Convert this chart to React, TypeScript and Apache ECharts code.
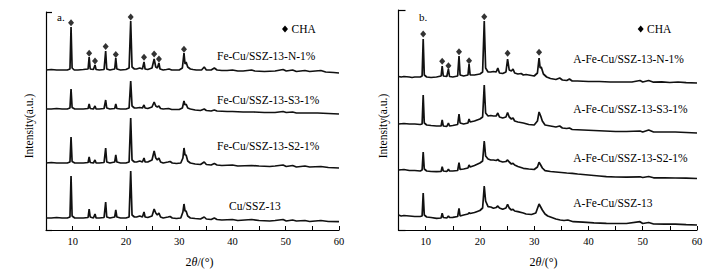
import React, { useEffect, useRef } from "react";
import * as echarts from "echarts";

type P = [number, number];

// Panel a: 2θ (deg) vs relative intensity of each pattern (a.u.)
const A_N: P[] = [[5,3],[6,3.5],[7,3],[8,3],[9,3],[9.5,4],[9.7,46],[9.9,5],[10.3,3],[11,3],[12,3.5],[12.9,4],[13.1,16],[13.3,4],[13.9,3.5],[14.2,8],[14.4,3.5],[15,3],[15.9,3.5],[16.2,22],[16.4,4],[17,3],[17.9,4],[18.1,15],[18.3,4],[19,3],[20,3.5],[20.6,5],[20.9,52],[21.15,6],[21.6,4],[22,4],[22.6,5],[23.1,4],[23.4,11],[23.6,4],[24.1,3.5],[24.9,5],[25.3,14],[25.6,6],[25.9,5],[26.2,10],[26.4,4],[27,3],[27.6,3.5],[28.1,4],[28.6,3],[29.2,3],[30,3],[30.6,5],[30.9,20],[31.1,9],[31.3,11],[31.6,6],[32.1,4],[32.6,3.5],[33.2,3],[34.2,3],[34.7,6],[35.1,3],[36,3],[36.6,5],[37.1,3],[38,2.5],[39,2.5],[40,3],[41,2],[42,2],[43.6,3],[44.2,2],[46,1.5],[48,2],[49.5,3.5],[50.1,2],[51.3,3],[52,1.5],[53.6,2.5],[54.5,1.5],[56.6,2.5],[57.5,1],[59,0.5],[60,0]];
const A_S3: P[] = [[5,5],[6,5],[7,5.5],[8,5],[9,5],[9.5,6],[9.7,25],[9.9,6.5],[10.4,5],[11,5],[12,5],[12.9,5.5],[13.1,10],[13.3,5.5],[13.9,5],[14.2,8],[14.4,5],[15,5],[15.9,5.5],[16.2,14],[16.4,6],[17,5],[17.9,5.5],[18.1,10],[18.3,5.5],[19,5],[20,5],[20.6,6],[20.9,33],[21.15,8],[21.6,6],[22,6],[22.6,6.5],[23.1,6],[23.4,9],[23.6,6],[24.1,5.5],[24.9,7],[25.3,12],[25.6,8],[25.9,7],[26.2,8],[26.5,5.5],[27,5],[28,5.5],[28.6,4.5],[29.2,4.5],[30,4.5],[30.6,6],[30.9,13],[31.1,9],[31.3,10],[31.6,6],[32.1,5],[33,4],[34,3.5],[34.7,5],[35.1,3.5],[36,3],[36.6,4],[37.1,3],[39,2.5],[40,2.5],[42,2],[44,2],[46,1.5],[48,1.5],[49.5,2.5],[50.1,1.5],[51.3,2],[52,1],[54,1],[56,1],[58,0.5],[60,0]];
const A_S2: P[] = [[5,5],[6,5.5],[7,5],[8,5],[9,5],[9.5,6],[9.7,31],[9.9,6.5],[10.4,5],[11,5],[12,5],[12.9,5.5],[13.1,11],[13.3,5.5],[13.9,5],[14.2,8],[14.4,5],[15,5],[15.9,5.5],[16.2,20],[16.4,6],[17,5],[17.9,6],[18.1,13],[18.3,6],[19,5],[20,5],[20.6,6],[20.9,50],[21.15,8],[21.6,6],[22,6],[22.6,7],[23.1,6],[23.4,10],[23.6,6],[24.1,6],[24.9,8],[25.3,17],[25.6,10],[25.9,8],[26.2,10],[26.5,6],[27,5],[27.9,6],[28.3,6.5],[28.7,5],[29.5,4.5],[30.3,5],[30.7,10],[30.9,20],[31.1,13],[31.3,13],[31.6,7],[32.1,5],[33,4],[34,3.5],[34.7,6],[35.1,3.5],[36,3],[36.6,4.5],[37.1,3],[38,2.5],[40,3],[41,2],[43.6,2.5],[45,2],[47,1.5],[48,2],[49.5,3],[50.1,1.5],[51.3,2.5],[52,1],[53.6,2],[54.5,1],[56.6,1.5],[58,0.5],[60,0]];
const A_CU: P[] = [[5,4],[6,4],[7,4.5],[8,4],[9,4],[9.5,5],[9.7,46],[9.9,6],[10.4,4],[11,4],[12,4],[12.9,4.5],[13.1,13],[13.3,5],[13.9,4],[14.2,8],[14.4,4],[15,4],[15.9,4.5],[16.2,20],[16.4,5],[17,4],[17.9,5],[18.1,12],[18.3,5],[19,4],[20,4],[20.6,5],[20.9,51],[21.15,7],[21.6,5],[22,5],[22.6,6],[23.1,5],[23.4,10],[23.6,5],[24.1,4.5],[24.9,6],[25.3,13],[25.6,9],[25.9,7],[26.2,9],[26.5,5],[27,4],[27.9,5],[28.3,5.5],[28.7,4],[29.5,3.5],[30.3,4],[30.7,10],[30.9,18],[31.1,11],[31.3,11],[31.6,6],[32.1,4],[33,3.5],[34,3],[34.7,5],[35.1,3],[36,2.5],[36.6,4],[37.1,2.5],[38,2],[40,2.5],[41,1.5],[43.6,2.5],[45,1.5],[47,1],[48,1.5],[49.5,2.5],[50.1,1],[51.3,2],[52,1],[53.6,1.5],[54.5,0.5],[56.6,1.5],[58,0.5],[60,0.3]];

// Panel b
const B_N: P[] = [[5,6.5],[5.5,6],[6,6.5],[7,6],[7.5,5.5],[8,6],[9,6],[9.35,7],[9.55,44],[9.75,8],[10.2,6],[11,5.5],[12,6],[12.85,7],[13.05,17],[13.25,7],[13.9,6.5],[14.2,14],[14.4,6.5],[15,6],[15.9,7],[16.15,27],[16.35,8],[17,7],[17.8,8],[18.0,19],[18.2,8],[19,8],[20,9],[20.5,11],[20.8,62],[21.05,15],[21.5,11],[22,11],[22.5,11.5],[23,11],[23.3,15],[23.6,10],[24.2,9.5],[24.8,11],[25.1,24],[25.4,13],[25.8,12],[26.1,14],[26.4,10],[27,9],[27.6,9.5],[28,8],[28.5,8.5],[29,8],[30,7],[30.6,10],[30.9,25],[31.1,15],[31.3,16],[31.7,9],[32.3,6],[33,4.5],[34,3.5],[34.7,5],[35.2,3],[36,2.5],[36.5,4],[37,2],[38,2],[40,1.5],[42,1.5],[44,1],[46,1],[48,1],[49.5,2.5],[50,1],[51.1,2.5],[52,0.8],[53.5,1.2],[55,0.5],[56.5,1],[58,0.3],[60,0]];
const B_S3: P[] = [[5,9],[6,9.5],[7,9],[8,9],[9,8.5],[9.35,9],[9.55,38],[9.75,10],[10.2,8],[11,7.5],[12,7],[12.85,7],[13.05,13],[13.25,7],[13.9,6.5],[14.2,10],[14.4,7],[15,7.5],[15.9,8.5],[16.15,19],[16.35,10],[17,9],[17.8,10],[18.0,14],[18.2,11],[19,12],[20,14],[20.5,16],[20.8,48],[21.05,20],[21.5,17],[22,17.5],[22.5,17],[23,17],[23.3,20],[23.6,16],[24.2,15],[24.8,16],[25.1,20.5],[25.4,16],[25.8,14],[26.1,15],[26.4,12],[27,11],[28,10],[29,8.5],[30,8],[30.6,12],[30.9,21],[31.2,17],[31.5,12],[32,8],[33,7],[34,6],[34.7,7],[35.2,5],[36,4.5],[36.5,5],[37,3.5],[39,3],[41,2.5],[43,2],[45,1.5],[47,1.5],[49.5,2],[50,1],[51.1,3],[52,1],[54,1],[56,1],[58,0.5],[60,0]];
const B_S2: P[] = [[5,9],[6,9.5],[7,8.5],[8,8.5],[9,8],[9.35,9],[9.55,27],[9.75,10],[10.2,8],[11,7.5],[12,7.3],[12.85,7.5],[13.05,12.3],[13.25,8],[13.9,7.5],[14.2,9.7],[14.4,8],[15,8],[15.9,8.5],[16.15,16.3],[16.35,9.5],[17,10],[17.8,11],[18.0,14],[18.2,12],[19,13.5],[20,16],[20.5,18],[20.8,38],[21.05,23],[21.5,20],[22,19],[22.5,19],[23,18.5],[23.3,19.5],[23.6,18],[24.2,17],[24.8,17.5],[25.1,19],[25.4,17],[25.8,15],[26.1,15.7],[26.4,14],[27,12.5],[28,10.7],[29,10],[30,9.5],[30.6,12],[30.9,16.7],[31.2,14],[31.5,11],[32,8.3],[33,7.5],[34,7],[35,6.5],[36,6],[37,5.7],[38,5],[40,4],[42,3],[43.3,2.3],[45,2],[47,1.8],[49.5,2.2],[50,1.5],[51.1,2.5],[52,1.2],[54,1.2],[56,1],[58,0.8],[60,0.5]];
const B_BASE: P[] = [[5,10],[5.5,9],[6,9.5],[7,9],[8,8.5],[9,8.5],[9.35,9],[9.55,32],[9.75,10],[10.2,8],[11,7.5],[12,6.7],[12.85,7],[13.05,11.7],[13.25,7.5],[13.9,7],[14.2,9],[14.4,7.5],[15,7.7],[15.9,8.5],[16.15,16.7],[16.35,9],[17,10],[17.8,11],[18.0,12.3],[18.2,11.5],[19,12.5],[19.4,13.3],[20,14.5],[20.5,17],[20.8,39],[21.05,24],[21.5,18.3],[22,18],[22.5,16.7],[23,17.5],[23.3,19],[23.6,17],[24.2,15.7],[24.8,17],[25.1,20.7],[25.4,17],[25.8,15],[26.1,15.7],[26.4,14],[27,13.3],[28,12],[28.5,11],[29.5,10.5],[30.3,12],[30.9,21],[31.2,18],[31.5,15],[32,11],[32.5,9],[33,8],[34,6],[34.8,5],[35.5,4.5],[36.2,5],[37.2,3.3],[39,2.8],[41,2.2],[43.3,1.7],[45,1.5],[47,1.5],[49.5,3.3],[50,1.5],[51.1,2.5],[52,1],[54,0.8],[56,0.8],[58,0.3],[60,0]];

// vertical stacking offsets of the patterns (top to bottom)
const OFFSETS_A = [157, 116, 62, 8];
const OFFSETS_B = [147, 97, 51, 5];

// CHA reflection markers [2θ, height]
const CHA_A: P[] = [[9.7,207.3],[13.1,176.7],[14.2,169],[16.2,183.5],[18.1,175.5],[20.9,213],[23.4,172.7],[25.3,176],[26.2,171],[30.9,180.7]];
const CHA_B: P[] = [[9.55,196],[13.05,168.7],[14.2,164.3],[16.15,178.3],[18.0,169.3],[20.8,213.3],[25.1,176.7],[30.9,177.7]];

const LABELS_A = ["Fe-Cu/SSZ-13-N-1%", "Fe-Cu/SSZ-13-S3-1%", "Fe-Cu/SSZ-13-S2-1%", "Cu/SSZ-13"];
const LABELS_B = ["A-Fe-Cu/SSZ-13-N-1%", "A-Fe-Cu/SSZ-13-S3-1%", "A-Fe-Cu/SSZ-13-S2-1%", "A-Fe-Cu/SSZ-13"];
const X_TICKS = [10, 20, 30, 40, 50, 60];

const FONT = '"Liberation Serif", "Times New Roman", serif';

function txt(text: string, x: number, y: number, size = 11.5, align = "left", extra: any = {}) {
  return {
    type: "text",
    x,
    y,
    ...extra,
    style: {
      text,
      fontSize: size,
      fontFamily: FONT,
      fill: "#000",
      align,
      verticalAlign: "middle",
      textAlign: align,
      textVerticalAlign: "middle",
    },
  };
}

function diamond(cx: number, cy: number) {
  return {
    type: "polygon",
    shape: { points: [[cx, cy - 3.5], [cx + 3, cy], [cx, cy + 3.5], [cx - 3, cy]] },
    style: { fill: "#000" },
  };
}

function xAxisCfg(gridIndex: number) {
  return {
    type: "value",
    gridIndex,
    min: 5,
    max: 60,
    interval: 5,
    axisLine: { show: true, lineStyle: { color: "#000", width: 1.2 } },
    axisTick: { show: true, inside: true, length: 4, lineStyle: { color: "#000", width: 1 } },
    axisLabel: {
      color: "#000",
      fontSize: 10.5,
      fontFamily: FONT,
      margin: 6,
      formatter: (v: number) => (X_TICKS.includes(v) ? String(v) : ""),
    },
    splitLine: { show: false },
  };
}

function yAxisCfg(gridIndex: number, max: number, tickLen: number) {
  return {
    type: "value",
    gridIndex,
    min: 0,
    max,
    interval: max,
    axisLine: { show: true, lineStyle: { color: "#000", width: 1.2 } },
    axisTick: { show: true, inside: true, length: tickLen, lineStyle: { color: "#000", width: 1.2 } },
    axisLabel: { show: false },
    splitLine: { show: false },
  };
}

function lineSeries(pts: P[], off: number, idx: number) {
  return {
    type: "line",
    xAxisIndex: idx,
    yAxisIndex: idx,
    data: pts.map(([x, y]) => [x, y + off]),
    showSymbol: false,
    symbol: "none",
    lineStyle: { color: "#111", width: 1.7 },
    silent: true,
  };
}

function chaSeries(pts: P[], idx: number) {
  return {
    type: "scatter",
    xAxisIndex: idx,
    yAxisIndex: idx,
    data: pts,
    symbol: "diamond",
    symbolSize: [6, 7],
    itemStyle: { color: "#000" },
    silent: true,
  };
}

function thetaLabel(x: number, y: number) {
  return {
    type: "text",
    x,
    y,
    style: {
      text: "2{i|θ}/(°)",
      fontSize: 12,
      fontFamily: FONT,
      fill: "#000",
      align: "center",
      verticalAlign: "middle",
      textAlign: "center",
      textVerticalAlign: "middle",
      rich: { i: { fontStyle: "italic", fontSize: 12, fontFamily: FONT, fill: "#000" } },
    },
  };
}

export default function App() {
  const ref = useRef<HTMLDivElement>(null);
  useEffect(() => {
    const chart = echarts.init(ref.current!, null, { renderer: "svg" });
    const labelYA = [56, 100, 146, 206];
    const labelYB = [59, 109.3, 158.3, 202.7];
    const option: any = {
      animation: false,
      backgroundColor: "#fff",
      grid: [
        { left: 46, top: 12, width: 293, height: 218 },
        { left: 398.5, top: 10, width: 298.5, height: 220 },
      ],
      xAxis: [xAxisCfg(0), xAxisCfg(1)],
      yAxis: [yAxisCfg(0, 218, 6), yAxisCfg(1, 220, 7)],
      series: [
        lineSeries(A_N, OFFSETS_A[0], 0),
        lineSeries(A_S3, OFFSETS_A[1], 0),
        lineSeries(A_S2, OFFSETS_A[2], 0),
        lineSeries(A_CU, OFFSETS_A[3], 0),
        chaSeries(CHA_A, 0),
        lineSeries(B_N, OFFSETS_B[0], 1),
        lineSeries(B_S3, OFFSETS_B[1], 1),
        lineSeries(B_S2, OFFSETS_B[2], 1),
        lineSeries(B_BASE, OFFSETS_B[3], 1),
        chaSeries(CHA_B, 1),
      ],
      graphic: [
        txt("a.", 57, 17, 11),
        txt("b.", 419, 17, 11),
        diamond(285, 29),
        txt("CHA", 291.5, 29, 11.5),
        diamond(640.7, 29),
        txt("CHA", 647, 29, 11.5),
        ...LABELS_A.map((l, i) => txt(l, i === 3 ? 229 : 217, labelYA[i], 11.5)),
        ...LABELS_B.map((l, i) => txt(l, 573.3, labelYB[i], 11.5)),
        txt("Intensity(a.u.)", 29, 126, 11.5, "center", { rotation: Math.PI / 2 }),
        txt("Intensity(a.u.)", 383.3, 126, 11.5, "center", { rotation: Math.PI / 2 }),
        thetaLabel(199.5, 262),
        thetaLabel(543.5, 262),
      ],
    };
    chart.setOption(option);
    return () => chart.dispose();
  }, []);
  return (
    <div
      ref={ref}
      style={{ position: "fixed", left: 0, top: 0, width: 727, height: 276, background: "#fff" }}
    />
  );
}
